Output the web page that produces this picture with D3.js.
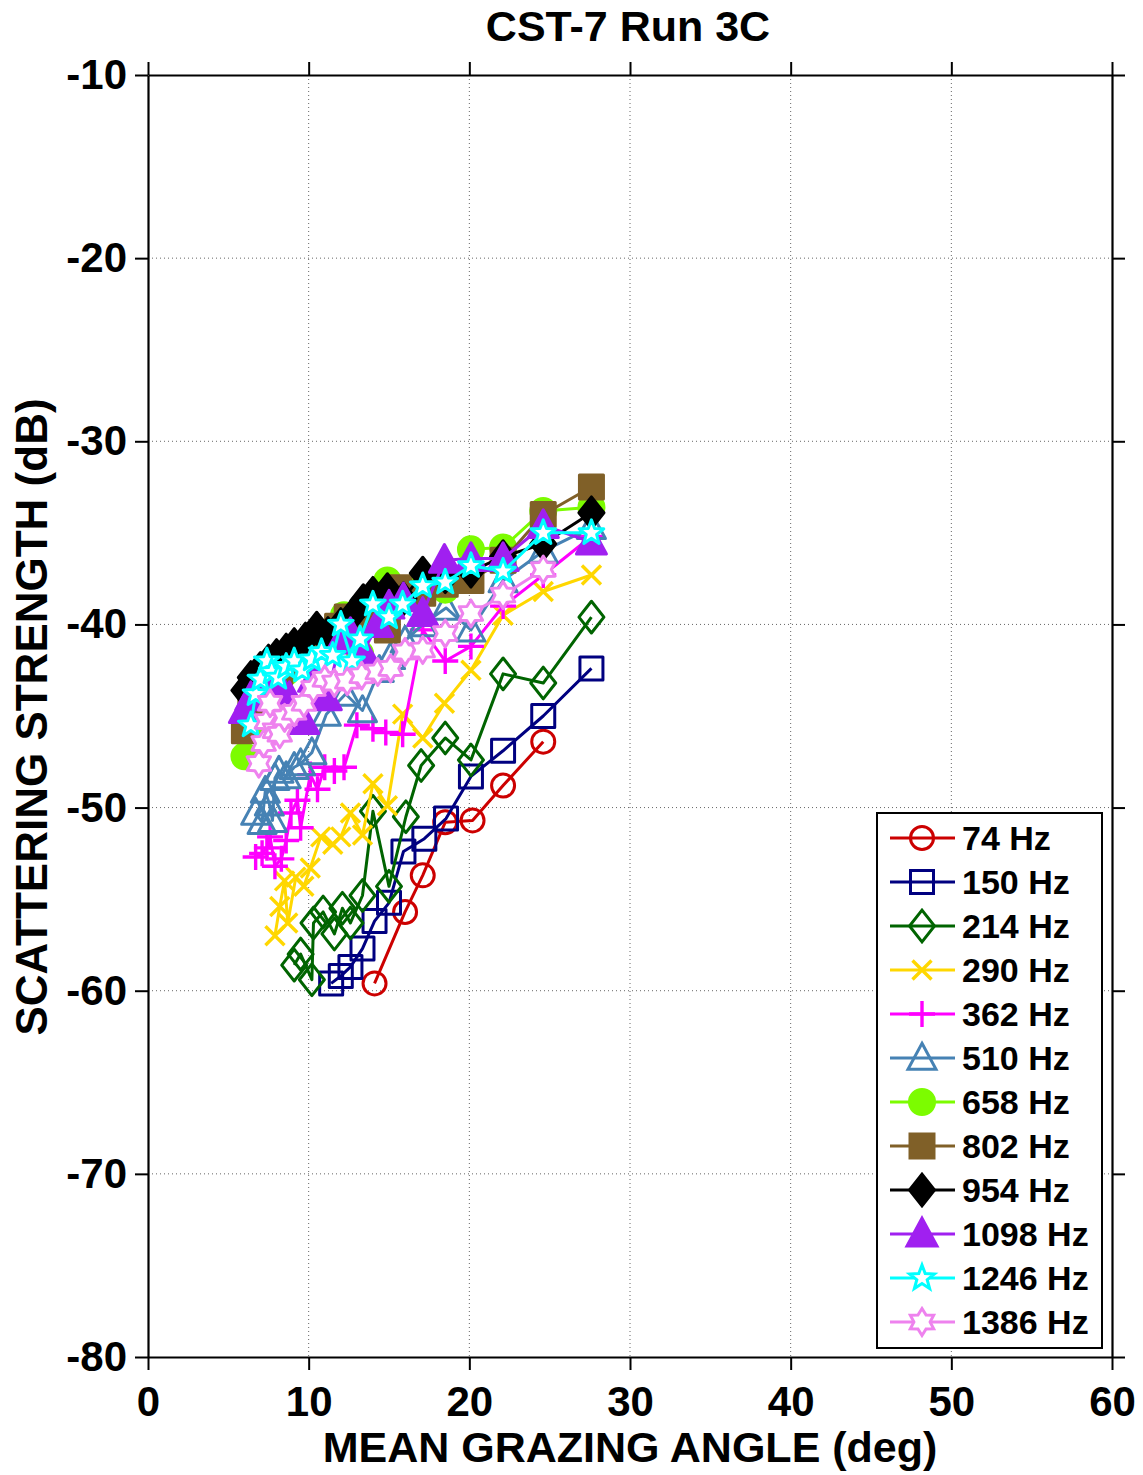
<!DOCTYPE html>
<html>
<head>
<meta charset="utf-8">
<script src="https://cdn.jsdelivr.net/npm/d3@7"></script>
<style>
html,body{margin:0;padding:0;background:#fff;}
svg{display:block;}
text{font-family:Arial,"Liberation Sans",Helvetica,sans-serif;font-weight:bold;fill:#000;}
</style>
</head>
<body>
<svg id="chart" width="1143" height="1475"></svg>
<script>
// ---------- DATA ----------
const chartTitle = "CST-7 Run 3C";
const xLabel = "MEAN GRAZING ANGLE (deg)";
const yLabel = "SCATTERING STRENGTH (dB)";
const xTicks = [0, 10, 20, 30, 40, 50, 60];
const yTicks = [-10, -20, -30, -40, -50, -60, -70, -80];
const seriesNames = ["74 Hz","150 Hz","214 Hz","290 Hz","362 Hz","510 Hz","658 Hz","802 Hz","954 Hz","1098 Hz","1246 Hz","1386 Hz"];

const ang74 = [14.1, 16.0, 17.1, 18.5, 20.2, 22.1, 24.6];
const ss74  = [-59.6, -55.7, -53.7, -50.8, -50.7, -48.8, -46.4];

const ang150 = [11.4, 12.0, 12.6, 13.35, 14.1, 15.0, 15.9, 17.2, 18.55, 20.1, 22.1, 24.6, 27.6];
const ss150  = [-59.6, -59.2, -58.7, -57.7, -56.2, -55.2, -52.4, -51.7, -50.6, -48.3, -46.9, -45.0, -42.4];

const ang214 = [9.1, 9.5, 10.2, 10.3, 10.9, 11.6, 12.1, 12.6, 13.35, 14.0, 15.0, 16.05, 17.0, 18.5, 20.1, 22.1, 24.6, 27.6];
const ss214  = [-58.6, -58.0, -59.4, -56.3, -55.7, -56.9, -55.5, -56.3, -54.8, -50.2, -54.3, -50.5, -47.7, -46.2, -47.4, -42.7, -43.2, -39.6];

const ang290 = [7.9, 8.2, 8.5, 8.7, 9.2, 9.7, 10.1, 10.75, 11.5, 12.0, 12.6, 13.35, 14.0, 14.9, 15.85, 17.1, 18.45, 20.1, 22.1, 24.6, 27.6];
const ss290  = [-57.0, -55.4, -54.0, -56.3, -53.8, -54.3, -53.3, -51.6, -52.0, -51.6, -50.3, -51.5, -48.7, -49.9, -44.9, -46.2, -44.3, -42.5, -39.5, -38.2, -37.3];

const ang362 = [6.7, 7.1, 7.4, 7.6, 7.9, 8.3, 8.6, 8.9, 9.3, 9.5, 10.1, 10.55, 11.0, 11.6, 12.2, 13.0, 14.0, 14.8, 15.85, 17.1, 18.5, 20.1, 22.1, 24.6, 27.6];
const ss362  = [-52.7, -52.5, -52.2, -51.6, -53.2, -52.8, -51.8, -50.3, -49.6, -51.1, -48.2, -49.0, -47.8, -48.0, -47.8, -45.5, -45.7, -45.9, -46.0, -40.3, -42.0, -41.2, -39.0, -37.3, -35.2];

const ang510 = [6.7, 7.1, 7.3, 7.55, 7.75, 7.9, 8.15, 8.6, 9.1, 9.5, 10.2, 11.1, 12.3, 13.35, 14.4, 15.1, 16.0, 17.1, 18.55, 20.1, 22.1, 24.6, 27.6];
const ss510  = [-50.3, -50.8, -49.1, -49.8, -50.7, -48.4, -48.0, -48.3, -47.8, -47.6, -47.0, -44.9, -43.8, -44.7, -42.5, -41.8, -40.9, -40.0, -39.1, -40.3, -37.6, -36.0, -34.7];

const ang658 = [6.0, 6.4, 6.9, 7.4, 8.0, 8.6, 9.3, 10.0, 10.7, 11.5, 12.2, 13.2, 14.1, 14.9, 15.9, 17.1, 18.5, 20.1, 22.1, 24.6, 27.6];
const ss658  = [-47.2, -45.5, -44.6, -43.8, -43.1, -42.6, -42.0, -41.4, -40.9, -40.3, -39.5, -41.6, -38.6, -37.6, -38.4, -37.5, -38.1, -35.9, -35.8, -33.8, -33.6];

const ang802 = [6.0, 6.4, 7.0, 7.6, 8.2, 8.8, 9.5, 10.3, 11.0, 11.8, 12.4, 13.2, 14.0, 14.9, 15.6, 17.1, 18.5, 20.1, 22.1, 24.6, 27.6];
const ss802  = [-45.8, -44.6, -43.9, -43.1, -42.6, -42.1, -41.6, -41.0, -40.6, -40.1, -39.6, -40.0, -39.8, -40.3, -38.0, -38.3, -37.8, -37.6, -36.5, -34.0, -32.5];

const ang954 = [6.0, 6.4, 7.0, 7.5, 8.0, 8.6, 9.1, 9.8, 10.5, 11.2, 12.0, 12.8, 13.4, 14.0, 14.9, 15.9, 17.1, 18.5, 20.1, 22.1, 24.6, 27.6];
const ss954  = [-43.6, -42.9, -42.4, -42.0, -41.7, -41.4, -41.1, -40.8, -40.2, -40.5, -40.0, -39.4, -38.7, -38.3, -38.1, -38.6, -37.2, -37.4, -37.1, -36.3, -35.6, -33.9];

const ang1098 = [6.0, 6.4, 7.0, 7.6, 8.2, 8.8, 9.7, 10.3, 11.1, 12.0, 12.6, 13.4, 14.3, 15.0, 15.9, 17.1, 18.45, 20.1, 22.1, 24.6, 27.6];
const ss1098  = [-44.7, -44.0, -43.4, -43.0, -43.4, -44.0, -45.3, -43.0, -44.0, -40.9, -40.5, -41.5, -40.0, -39.0, -38.6, -39.4, -36.5, -36.4, -36.4, -34.6, -35.5];

const ang1246 = [6.4, 6.7, 7.0, 7.4, 7.7, 8.1, 8.6, 9.1, 9.6, 10.2, 10.8, 11.5, 12.0, 12.7, 13.2, 14.0, 15.0, 15.85, 17.1, 18.5, 20.1, 22.1, 24.6, 27.6];
const ss1246  = [-45.5, -43.8, -43.0, -42.0, -42.6, -42.9, -42.3, -42.0, -42.5, -41.9, -41.5, -41.7, -40.0, -42.0, -40.8, -38.9, -39.6, -38.9, -37.9, -37.7, -36.8, -37.1, -35.0, -35.0];

const ang1386 = [6.9, 7.2, 7.4, 7.6, 7.9, 8.2, 8.5, 9.1, 9.7, 10.3, 11.0, 11.6, 12.4, 13.3, 14.3, 15.1, 16.0, 17.1, 18.5, 20.1, 22.1, 24.6];
const ss1386  = [-47.6, -46.5, -45.3, -44.3, -45.8, -46.0, -45.1, -44.8, -44.3, -43.5, -43.0, -43.2, -43.1, -42.8, -42.6, -42.4, -41.5, -41.4, -40.5, -39.4, -38.4, -37.0];

const seriesAngles = [ang74, ang150, ang214, ang290, ang362, ang510, ang658, ang802, ang954, ang1098, ang1246, ang1386];
const seriesValues = [ss74, ss150, ss214, ss290, ss362, ss510, ss658, ss802, ss954, ss1098, ss1246, ss1386];

// ---------- STYLE ----------
const styles = [
  {color:"#CC0000", shape:"circle",   size:11.5, fill:"none"},
  {color:"#000080", shape:"square",   size:11.5, fill:"none"},
  {color:"#006400", shape:"diamond",  size:12.5, fill:"none"},
  {color:"#FFD700", shape:"x",        size:9.5,  fill:"none"},
  {color:"#FF00FF", shape:"plus",     size:13,   fill:"none"},
  {color:"#4682B4", shape:"triangle", size:14,   fill:"none"},
  {color:"#7CFC00", shape:"circle",   size:12.5, fill:"#7CFC00"},
  {color:"#806028", shape:"square",   size:12,   fill:"#806028"},
  {color:"#000000", shape:"diamond",  size:12.5, fill:"#000000"},
  {color:"#A020F0", shape:"triangle", size:15,   fill:"#A020F0"},
  {color:"#00FFFF", shape:"star",     size:13,   fill:"#FFFFFF"},
  {color:"#EE82EE", shape:"hexagram", size:13.5, fill:"#FFFFFF"}
];

function shapePath(shape, s) {
  switch (shape) {
    case "circle":
      return `M${s},0A${s},${s} 0 1 1 ${-s},0A${s},${s} 0 1 1 ${s},0Z`;
    case "square":
      return `M${-s},${-s}H${s}V${s}H${-s}Z`;
    case "diamond": {
      const hh = s * 1.27;
      return `M0,${-hh}L${s},0L0,${hh}L${-s},0Z`;
    }
    case "x":
      return `M${-s},${-s}L${s},${s}M${-s},${s}L${s},${-s}`;
    case "plus":
      return `M${-s},0H${s}M0,${-s}V${s}`;
    case "triangle": {
      const top = -s * 1.05, bot = s * 0.8;
      return `M0,${top}L${s},${bot}L${-s},${bot}Z`;
    }
    case "star": {
      const pts = [];
      for (let i = 0; i < 10; i++) {
        const r = i % 2 === 0 ? s : s * 0.42;
        const a = -Math.PI / 2 + i * Math.PI / 5;
        pts.push([r * Math.cos(a), r * Math.sin(a)]);
      }
      return "M" + pts.map(p => p[0].toFixed(2) + "," + p[1].toFixed(2)).join("L") + "Z";
    }
    case "hexagram": {
      const pts = [];
      for (let i = 0; i < 12; i++) {
        const r = i % 2 === 0 ? s : s * 0.6;
        const a = -Math.PI / 2 + i * Math.PI / 6;
        pts.push([r * Math.cos(a), r * Math.sin(a)]);
      }
      return "M" + pts.map(p => p[0].toFixed(2) + "," + p[1].toFixed(2)).join("L") + "Z";
    }
  }
  return "";
}

// ---------- LAYOUT ----------
const svg = d3.select("#chart");
const L = 148, R = 1112, T = 75, B = 1357;
const x = d3.scaleLinear().domain([0, 60]).range([L, R]);
const y = d3.scaleLinear().domain([-80, -10]).range([B, T]);

svg.append("rect").attr("x",0).attr("y",0).attr("width",1143).attr("height",1475).attr("fill","#fff");

// grid
const grid = svg.append("g");
grid.selectAll("line.gx").data(xTicks.filter(v => v > 0 && v < 60)).enter().append("line")
  .attr("x1", d => x(d)).attr("x2", d => x(d)).attr("y1", T).attr("y2", B)
  .attr("stroke", "#666").attr("stroke-width", 1).attr("stroke-dasharray", "1,3");
grid.selectAll("line.gy").data(yTicks.filter(v => v > -80 && v < -10)).enter().append("line")
  .attr("y1", d => y(d)).attr("y2", d => y(d)).attr("x1", L).attr("x2", R)
  .attr("stroke", "#666").attr("stroke-width", 1).attr("stroke-dasharray", "1,3");

// series
const lineGen = d3.line().x(d => x(d[0])).y(d => y(d[1]));
const mStroke = st => (st.shape === "x" || st.shape === "plus") ? 3.4 : 3;
seriesValues.forEach((vals, i) => {
  const st = styles[i];
  const pts = seriesAngles[i].map((a, j) => [a, vals[j]]);
  const g = svg.append("g");
  g.append("path").datum(pts).attr("d", lineGen)
    .attr("fill", "none").attr("stroke", st.color).attr("stroke-width", 3)
    .attr("stroke-linejoin", "round");
  g.selectAll("path.m").data(pts).enter().append("path")
    .attr("class", "m")
    .attr("transform", d => `translate(${x(d[0])},${y(d[1])})`)
    .attr("d", shapePath(st.shape, st.size))
    .attr("fill", st.fill).attr("stroke", st.color)
    .attr("stroke-width", mStroke(st))
    .attr("stroke-linejoin", "round");
});

// axes (box with outward ticks)
const tickLen = 13;
const fmt = d => String(d);
const gB = svg.append("g").attr("transform", `translate(0,${B})`)
  .call(d3.axisBottom(x).tickValues(xTicks).tickSize(tickLen).tickSizeOuter(0).tickPadding(16).tickFormat(fmt));
const gT = svg.append("g").attr("transform", `translate(0,${T})`)
  .call(d3.axisTop(x).tickValues(xTicks).tickSize(tickLen).tickSizeOuter(0).tickFormat(""));
const gL = svg.append("g").attr("transform", `translate(${L},0)`)
  .call(d3.axisLeft(y).tickValues(yTicks).tickSize(tickLen).tickSizeOuter(0).tickPadding(8).tickFormat(fmt));
const gR = svg.append("g").attr("transform", `translate(${R},0)`)
  .call(d3.axisRight(y).tickValues(yTicks).tickSize(tickLen).tickSizeOuter(0).tickFormat(""));
[gB, gT, gL, gR].forEach(g => {
  g.select(".domain").attr("stroke", "#000").attr("stroke-width", 2.2);
  g.selectAll(".tick line").attr("stroke", "#000").attr("stroke-width", 2);
});
[gB, gL].forEach(g => g.selectAll(".tick text").attr("font-size", 42).attr("font-weight", "bold")
  .attr("font-family", "Arial, 'Liberation Sans', sans-serif").attr("fill", "#000"));

// title & labels
svg.append("text").attr("x", 628).attr("y", 41).attr("text-anchor", "middle")
  .attr("font-size", 43).text(chartTitle);
svg.append("text").attr("x", 630).attr("y", 1462).attr("text-anchor", "middle")
  .attr("font-size", 43).text(xLabel);
svg.append("text").attr("transform", "translate(47,717) rotate(-90)").attr("text-anchor", "middle")
  .attr("font-size", 44).text(yLabel);

// legend
const lg = svg.append("g");
lg.append("rect").attr("x", 877).attr("y", 813).attr("width", 225).attr("height", 535)
  .attr("fill", "#fff").attr("stroke", "#000").attr("stroke-width", 2);
seriesNames.forEach((name, i) => {
  const st = styles[i];
  const cy = 838 + i * 44;
  lg.append("line").attr("x1", 890).attr("x2", 955).attr("y1", cy).attr("y2", cy)
    .attr("stroke", st.color).attr("stroke-width", 3);
  lg.append("path").attr("transform", `translate(922,${cy})`)
    .attr("d", shapePath(st.shape, st.size))
    .attr("fill", st.fill).attr("stroke", st.color)
    .attr("stroke-width", mStroke(st));
  lg.append("text").attr("x", 962).attr("y", cy + 12).attr("font-size", 34).text(name);
});
</script>
</body>
</html>
